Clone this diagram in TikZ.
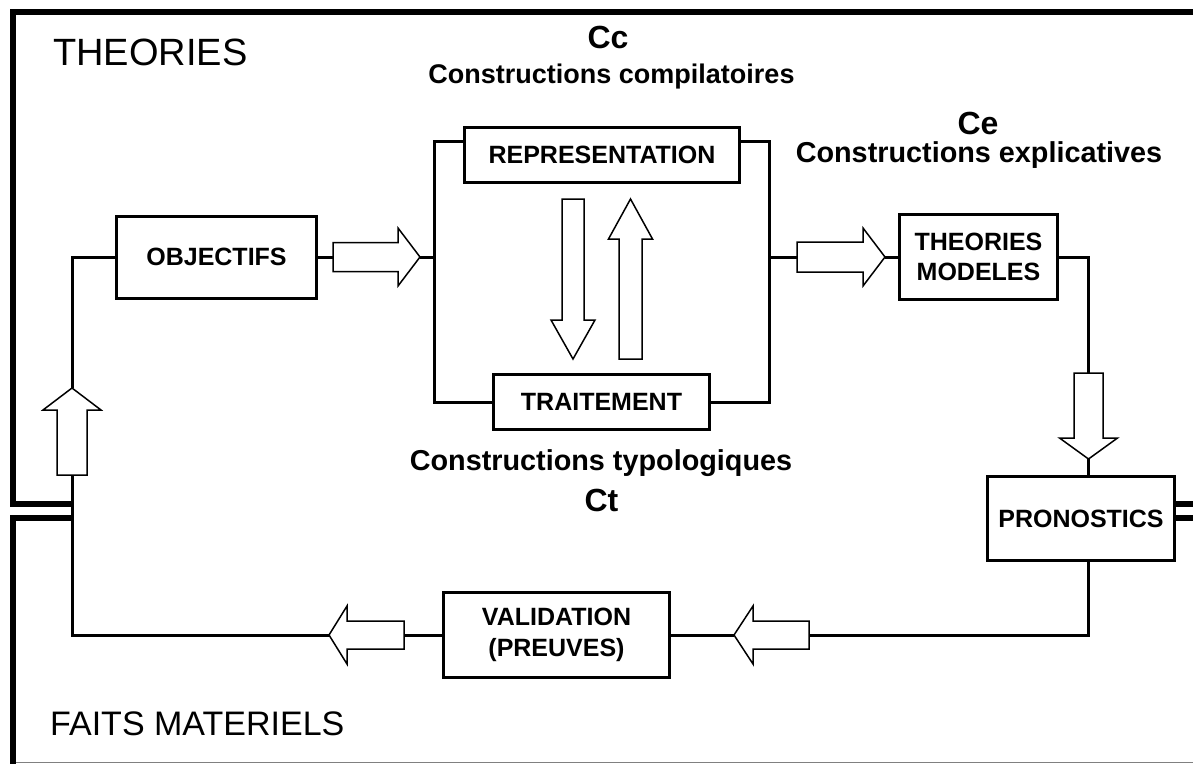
\documentclass[tikz,border=0pt]{standalone}
\usepackage{fontspec}
\setmainfont{Liberation Sans}
\tikzset{
  pics/barrow/.style args={#1/#2/#3/#4}{code={
    \draw[arrowline] (0,{-#3/2}) -- ({#1-#2},{-#3/2}) -- ({#1-#2},{-#4/2}) -- (#1,0)
      -- ({#1-#2},{#4/2}) -- ({#1-#2},{#3/2}) -- (0,{#3/2}) -- cycle;
  }}
}
\begin{document}
\begin{tikzpicture}[x=1pt,y=-1pt,
  box/.style={draw, line width=3pt, fill=white, inner sep=0pt, align=center,
    font=\bfseries\fontsize{25}{30.5}\selectfont},
  conn/.style={line width=3pt},
  frameline/.style={line width=5.5pt, line cap=butt},
  arrowline/.style={draw=black, fill=white, line width=1.5pt, line join=miter},
  lbl/.style={anchor=base, inner sep=0pt, font=\bfseries\fontsize{28.8}{34}\selectfont},
  code/.style={anchor=base, inner sep=0pt, font=\bfseries\fontsize{32}{36}\selectfont},
  big/.style={anchor=base west, inner sep=0pt}
]
\useasboundingbox (0,0) rectangle (1193,763);

% frames
\draw[frameline] (1196,12) -- (13,12) -- (13,504) -- (72,504);
\draw[frameline] (72,518) -- (13,518) -- (13,766);
\draw[gray, line width=1pt] (16,762.5) -- (1193,762.5);

% boxes
\node[box, minimum width=200pt, minimum height=82pt] (obj) at (216.5,257) {OBJECTIFS};
\node[box, minimum width=275pt, minimum height=55pt] (rep) at (602,155) {REPRESENTATION};
\node[box, minimum width=216pt, minimum height=55pt] (tra) at (601.5,402) {TRAITEMENT};
\node[box, minimum width=158pt, minimum height=85pt] (thm) at (978.5,257) {THEORIES\\MODELES};
\node[box, minimum width=187pt, minimum height=84pt] (pro) at (1081,518.5) {PRONOSTICS};
\node[box, minimum width=226pt, minimum height=85pt] (val) at (556.5,635) {VALIDATION\\(PREUVES)};

\draw[frameline] (pro.east |- 0,504) -- (1196,504);
\draw[frameline] (pro.east |- 0,518) -- (1196,518);

% texts
\node[big, font=\fontsize{38}{44}\selectfont] (ttheo) at (53,65) {THEORIES};
\node[big, font=\fontsize{34}{40}\selectfont] (tfaits) at (50,735) {FAITS MATERIELS};
\node[code] (cc) at (608,48) {Cc};
\node[lbl, font=\bfseries\fontsize{27}{32}\selectfont] (ccl) at (611.5,83) {Constructions compilatoires};
\node[code] (ce) at (978,134) {Ce};
\node[lbl] (cel) at (979,162) {Constructions explicatives};
\node[lbl] (ctl) at (601,470) {Constructions typologiques};
\node[code] (ct) at (601.5,511) {Ct};

% coordinates
\coordinate (lbot) at (72,635);
\coordinate (ltop) at (72,257);
\coordinate (a1tail) at (72,475);
\coordinate (a1tip) at (72,388);
\coordinate (a2tail) at (333,257);
\coordinate (a2tip) at (420,257);
\coordinate (brtl) at (434,141);
\coordinate (brml) at (434,257);
\coordinate (brbl) at (434,402);
\coordinate (brtr) at (769,141);
\coordinate (brmr) at (769,257);
\coordinate (brbr) at (769,402);
\coordinate (a3tail) at (797,257);
\coordinate (a3tip) at (885,257);
\coordinate (rtop) at (1088.5,257);
\coordinate (a4tail) at (1088.5,373);
\coordinate (a4tip) at (1088.5,459);
\coordinate (rbot) at (1088.5,635);
\coordinate (a5tail) at (809,635);
\coordinate (a5tip) at (734,635);
\coordinate (a6tail) at (404,635);
\coordinate (a6tip) at (329,635);

% connectors
\draw[conn] (val.west) -- (a6tail);
\draw[conn] (a6tip) -- (lbot) -- (a1tail);
\draw[conn] (a1tip) -- (ltop) -- (obj.west);
\draw[conn] (obj.east) -- (a2tail);
\draw[conn] (a2tip) -- (brml);
\draw[conn] (rep.west |- brtl) -- (brtl) -- (brbl) -- (tra.west);
\draw[conn] (rep.east |- brtr) -- (brtr) -- (brbr) -- (tra.east);
\draw[conn] (brmr) -- (a3tail);
\draw[conn] (a3tip) -- (thm.west);
\draw[conn] (thm.east) -- (rtop) -- (a4tail);
\draw[conn] (a4tip) -- (pro.north -| a4tip);
\draw[conn] (pro.south -| rbot) -- (rbot) -- (a5tail);
\draw[conn] (a5tip) -- (val.east);

% block arrows
\pic[rotate=90] (ar1) at (a1tail) {barrow=87/22/30/58};
\pic (ar2) at (a2tail) {barrow=87/22/29/58};
\pic (ar3) at (a3tail) {barrow=88/22/30/58};
\pic[rotate=-90] (ar4) at (a4tail) {barrow=86/21/29/58};
\pic[rotate=180] (ar5) at (a5tail) {barrow=75/19/28/58};
\pic[rotate=180] (ar6) at (a6tail) {barrow=75/18/28/58};
\pic[rotate=-90] (ar7) at (573,199) {barrow=160/39/22/44};
\pic[rotate=90] (ar8) at (630.5,359) {barrow=160/40/23/44};
\end{tikzpicture}
\end{document}
